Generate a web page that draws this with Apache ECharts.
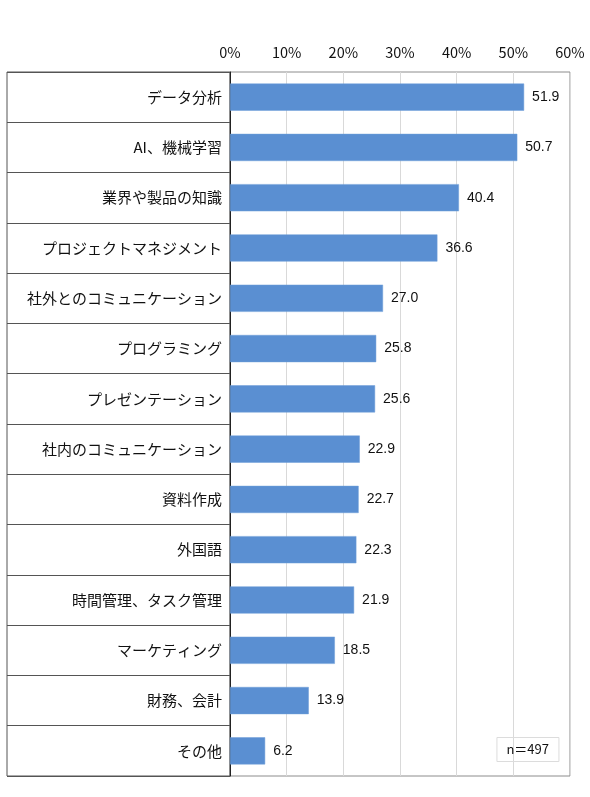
<!DOCTYPE html>
<html>
<head>
<meta charset="utf-8">
<script src="https://cdn.jsdelivr.net/npm/echarts@6/dist/echarts.min.js"></script>
<style>
  html, body { margin: 0; padding: 0; background: #fff; }
  #main { width: 590px; height: 797px; }
</style>
</head>
<body>
<div id="main"></div>
<script>
// 項目名（上から順）
var categories = [
  "データ分析", "AI、機械学習", "業界や製品の知識", "プロジェクトマネジメント",
  "社外とのコミュニケーション", "プログラミング", "プレゼンテーション",
  "社内のコミュニケーション", "資料作成", "外国語", "時間管理、タスク管理",
  "マーケティング", "財務、会計", "その他"
];
// 割合（%）
var values = [51.9, 50.7, 40.4, 36.6, 27.0, 25.8, 25.6, 22.9, 22.7, 22.3, 21.9, 18.5, 13.9, 6.2];
// 目盛り
var tickMin = 0, tickMax = 60, tickStep = 10;
var sampleNote = "n＝497";

var jp = '"Noto Sans CJK JP", "Noto Sans", sans-serif';

var myChart = echarts.init(document.getElementById("main"));
var option = {
  animation: false,
  backgroundColor: "#fff",
  title: {
    text: sampleNote,
    right: 31,
    bottom: 35,
    padding: [6, 10, 6, 10],
    borderColor: "#dcdcdc",
    borderWidth: 1,
    textStyle: { fontFamily: jp, fontSize: 13, fontWeight: "normal", color: "#111" }
  },
  grid: [
    // グラフ部分
    { left: 230, right: 20, top: 72, bottom: 21, show: true, borderColor: "#8c8c8c", borderWidth: 1, containLabel: false },
    // 項目名の表部分
    { left: 7, width: 223, top: 72, bottom: 21, show: true, borderColor: "#555", borderWidth: 1, containLabel: false }
  ],
  xAxis: [
    {
      gridIndex: 0,
      type: "value",
      position: "top",
      min: tickMin,
      max: tickMax,
      interval: tickStep,
      axisLine: { show: false },
      axisTick: { show: false },
      axisLabel: {
        margin: 12,
        formatter: "{value}%",
        fontFamily: jp,
        fontSize: 14.5,
        color: "#111"
      },
      splitLine: { show: true, lineStyle: { color: "#d9d9d9", width: 1 } }
    },
    { gridIndex: 1, type: "value", show: false }
  ],
  yAxis: [
    {
      gridIndex: 0,
      type: "category",
      data: categories,
      inverse: true,
      axisLine: { show: true, lineStyle: { color: "#222", width: 1 } },
      axisTick: { show: false },
      axisLabel: {
        margin: 8,
        fontFamily: jp,
        fontSize: 15,
        color: "#111"
      },
      splitLine: { show: false }
    },
    {
      gridIndex: 1,
      type: "category",
      data: categories,
      inverse: true,
      axisLine: { show: false },
      axisTick: { show: false },
      axisLabel: { show: false },
      splitLine: { show: true, lineStyle: { color: "#555", width: 1 } }
    }
  ],
  series: [
    {
      type: "bar",
      xAxisIndex: 0,
      yAxisIndex: 0,
      data: values,
      barWidth: "54%",
      itemStyle: { color: "#5a8fd2", borderColor: "#6f9fd9", borderWidth: 0.5 },
      label: {
        show: true,
        position: "right",
        distance: 8,
        formatter: function (p) { return p.value.toFixed(1); },
        fontFamily: '"Liberation Sans", Arial, sans-serif',
        fontSize: 14,
        color: "#111"
      }
    }
  ]
};
myChart.setOption(option);
</script>
</body>
</html>
